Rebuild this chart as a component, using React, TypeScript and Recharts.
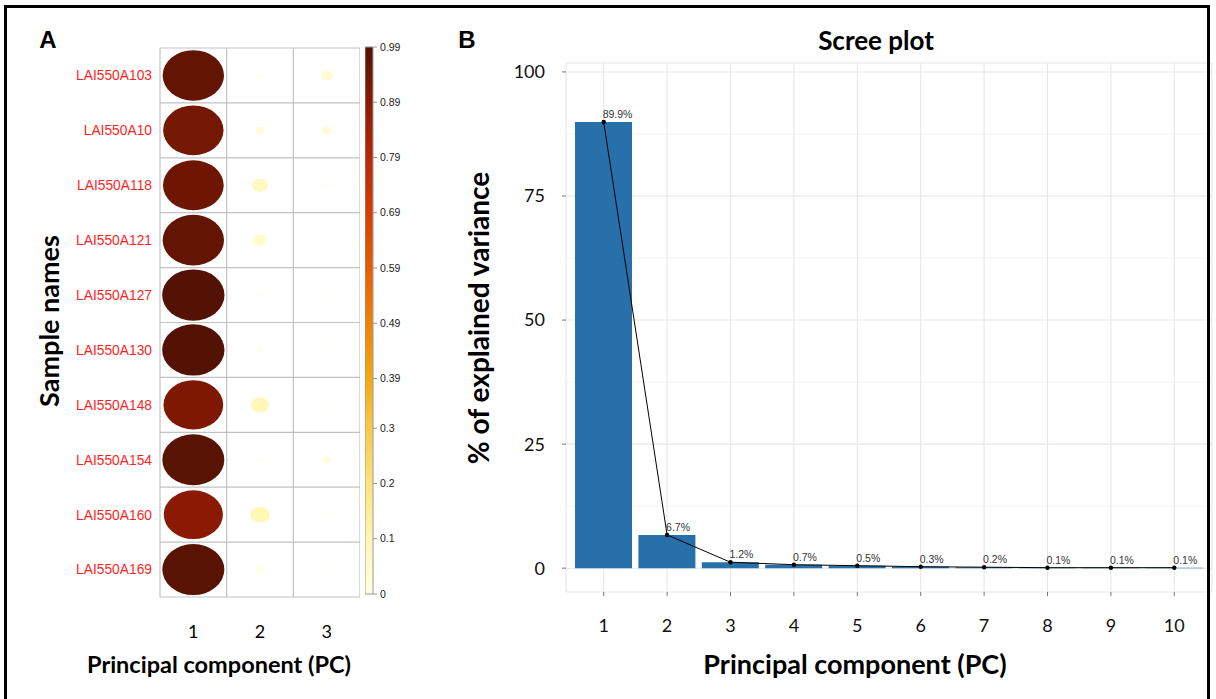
import React from "react"
import {
  ComposedChart,
  ScatterChart,
  BarChart,
  Scatter,
  Bar,
  Line,
  XAxis,
  YAxis,
  CartesianGrid,
  ReferenceLine,
  LabelList,
} from "recharts"

// Panel A: squared cosines of samples on the first three PCs
const samples = [
  "LAI550A103",
  "LAI550A10",
  "LAI550A118",
  "LAI550A121",
  "LAI550A127",
  "LAI550A130",
  "LAI550A148",
  "LAI550A154",
  "LAI550A160",
  "LAI550A169",
]
const pcColumns = [1, 2, 3]
const pc1Cos2 = [0.96, 0.93, 0.94, 0.96, 0.99, 0.99, 0.91, 0.98, 0.89, 0.98]
const pc2Cos2 = [0.005, 0.02, 0.066, 0.05, 0.004, 0.006, 0.084, 0.003, 0.094, 0.013]
const pc3Cos2 = [0.037, 0.026, 0.003, 0.001, 0.002, 0.002, 0.004, 0.017, 0.003, 0.002]
const legendTicks = [0, 0.1, 0.2, 0.3, 0.39, 0.49, 0.59, 0.69, 0.79, 0.89, 0.99]
const legendMax = 0.99

// Panel B: scree plot
const components = ["1", "2", "3", "4", "5", "6", "7", "8", "9", "10"]
const explained = [89.9, 6.7, 1.2, 0.7, 0.5, 0.3, 0.2, 0.1, 0.1, 0.1]
const varianceTicks = [0, 25, 50, 75, 100]
const minorTicks = [12.5, 37.5, 62.5, 87.5]

const paletteStops: [number, string][] = [
  [0, "#FFFFE3"],
  [0.1, "#FFF6B2"],
  [0.2, "#FDE47C"],
  [0.3, "#F9C94C"],
  [0.39, "#F4A80C"],
  [0.49, "#EE8206"],
  [0.59, "#E65D04"],
  [0.69, "#D63C04"],
  [0.79, "#B82704"],
  [0.89, "#8A1A03"],
  [0.99, "#531203"],
]

const hex = (c: string) => [1, 3, 5].map((i) => parseInt(c.slice(i, i + 2), 16))

function paletteColor(v: number) {
  for (let i = 1; i < paletteStops.length; i++) {
    const [v1, c1] = paletteStops[i]
    const [v0, c0] = paletteStops[i - 1]
    if (v <= v1 || i === paletteStops.length - 1) {
      const t = Math.max(0, Math.min(1, (v - v0) / (v1 - v0)))
      const a = hex(c0)
      const b = hex(c1)
      const m = a.map((x, k) => Math.round(x + (b[k] - x) * t))
      return `rgb(${m[0]},${m[1]},${m[2]})`
    }
  }
  return paletteStops[0][1]
}

const cos2Cols = [pc1Cos2, pc2Cos2, pc3Cos2]
const cellData = samples.flatMap((s, r) =>
  pcColumns.map((pc, c) => ({ pc, row: r + 1, value: cos2Cols[c][r] }))
)
const screeData = components.map((pc, i) => ({ pc, variance: explained[i] }))
const legendData = [{ key: "cos2", top: legendMax }]

const CELL_W = 200 / 3
const CELL_H = 549 / 10
const cellEdgesX = [0.5, 1.5, 2.5, 3.5]
const cellEdgesY = [0.5, 1.5, 2.5, 3.5, 4.5, 5.5, 6.5, 7.5, 8.5, 9.5, 10.5]

const CALIBRI = "Lato, 'Open Sans', sans-serif"
const ARIAL = "'Liberation Sans', Arial, sans-serif"

const CellShape = (props: any) => {
  const { cx, cy, payload } = props
  const s = Math.sqrt(payload.value)
  return (
    <ellipse
      cx={cx}
      cy={cy}
      rx={s * CELL_W * 0.47}
      ry={s * CELL_H * 0.47}
      fill={paletteColor(payload.value)}
    />
  )
}

function Txt({ x, y, size, rotate = 0, family = CALIBRI, children }: any) {
  return (
    <div
      style={{
        position: "absolute",
        left: x,
        top: y,
        transform: `translate(-50%, -50%) rotate(${rotate}deg)`,
        fontSize: size,
        fontWeight: 700,
        fontFamily: family,
        whiteSpace: "nowrap",
        lineHeight: 1,
        color: "#000",
      }}
    >
      {children}
    </div>
  )
}

export default function App() {
  return (
    <div
      style={{
        position: "absolute",
        left: 0,
        top: 0,
        width: 1216,
        height: 699,
        background: "#fff",
        overflow: "hidden",
      }}
    >
      {/* panel A grid */}
      <div style={{ position: "absolute", left: 0, top: 0 }}>
        <ScatterChart width={360} height={699} margin={{ top: 48, right: 0, bottom: 62, left: 40 }}>
          <XAxis
            type="number"
            dataKey="pc"
            domain={[0.5, 3.5]}
            ticks={pcColumns}
            axisLine={false}
            tickLine={false}
            tickSize={0}
            tickMargin={28}
            height={40}
            tick={{ fontSize: 18, fill: "#000", fontFamily: CALIBRI }}
          />
          <YAxis
            type="number"
            dataKey="row"
            domain={[0.5, 10.5]}
            ticks={samples.map((_, i) => i + 1)}
            reversed
            width={120}
            axisLine={false}
            tickLine={false}
            tickSize={0}
            tickMargin={8}
            tickFormatter={(v) => samples[v - 1]}
            tick={{ fontSize: 13.8, fill: "#ff1f1f", fontFamily: ARIAL }}
          />
          {cellEdgesX.map((x) => (
            <ReferenceLine key={"x" + x} x={x} stroke="#c2c2c2" strokeWidth={1.2} />
          ))}
          {cellEdgesY.map((y) => (
            <ReferenceLine key={"y" + y} y={y} stroke="#c2c2c2" strokeWidth={1.2} />
          ))}
          <Scatter data={cellData} shape={CellShape} isAnimationActive={false} />
        </ScatterChart>
      </div>

      {/* panel A colour bar */}
      <div style={{ position: "absolute", left: 365, top: 0 }}>
        <BarChart
          width={62}
          height={600}
          data={legendData}
          barCategoryGap={0}
          margin={{ top: 47, right: 0, bottom: 6, left: 0 }}
        >
          <defs>
            <linearGradient id="cbar" x1="0" y1="1" x2="0" y2="0">
              {paletteStops.map(([v, c]) => (
                <stop key={v} offset={v / legendMax} stopColor={c} />
              ))}
            </linearGradient>
          </defs>
          <XAxis dataKey="key" hide />
          <YAxis
            type="number"
            orientation="right"
            domain={[0, legendMax]}
            ticks={legendTicks}
            width={54}
            axisLine={false}
            tickSize={4}
            tickMargin={3}
            tickLine={{ stroke: "#999" }}
            tick={{ fontSize: 10.5, fill: "#222", fontFamily: ARIAL }}
          />
          <Bar dataKey="top" fill="url(#cbar)" stroke="#9a9a9a" strokeWidth={1} isAnimationActive={false} />
        </BarChart>
      </div>

      {/* panel B scree plot */}
      <div style={{ position: "absolute", left: 460, top: 55 }}>
        <ComposedChart width={756} height={644} data={screeData} margin={{ top: 8, right: 4, bottom: 77, left: 46 }}>
          <CartesianGrid stroke="#f2f2f2" strokeWidth={1} vertical={false} horizontalValues={minorTicks} />
          <CartesianGrid stroke="#e6e6e6" strokeWidth={1.1} />
          <XAxis
            dataKey="pc"
            padding={{ left: 6, right: 6 }}
            axisLine={false}
            tickSize={4}
            tickMargin={23}
            height={30}
            tickLine={{ stroke: "#777" }}
            tick={{ fontSize: 18, fill: "#111", fontFamily: CALIBRI }}
          />
          <YAxis
            type="number"
            domain={[-4.8, 101.8]}
            ticks={varianceTicks}
            width={60}
            axisLine={false}
            tickSize={4}
            tickMargin={17}
            tickLine={{ stroke: "#777" }}
            tick={{ fontSize: 18, fill: "#111", fontFamily: CALIBRI }}
          />
          <Bar dataKey="variance" fill="#2870aa" barSize={57} isAnimationActive={false} />
          <Line
            dataKey="variance"
            type="linear"
            stroke="#000"
            strokeWidth={1}
            dot={{ r: 2.2, fill: "#000", stroke: "#000", strokeWidth: 0 }}
            activeDot={false}
            isAnimationActive={false}
          >
            <LabelList
              dataKey="variance"
              content={(p: any) => (
                <text x={p.x - 1} y={p.y - 4} fontSize={10.5} fill="#333" fontFamily={ARIAL}>
                  {`${p.value}%`}
                </text>
              )}
            />
          </Line>
        </ComposedChart>
      </div>

      <Txt x={48} y={40} size={24} family={ARIAL}>A</Txt>
      <Txt x={467} y={40} size={24} family={ARIAL}>B</Txt>
      <Txt x={876} y={40} size={26}>Scree plot</Txt>
      <Txt x={48} y={321} size={27} rotate={-90}>Sample names</Txt>
      <Txt x={219} y={665} size={23.5}>Principal component (PC)</Txt>
      <Txt x={478} y={318} size={28} rotate={-90}>% of explained variance</Txt>
      <Txt x={855} y={663} size={27}>Principal component (PC)</Txt>

      {/* outer frame */}
      <div
        style={{
          position: "absolute",
          left: 4,
          top: 5,
          width: 1206,
          height: 720,
          border: "3px solid #000",
          boxSizing: "border-box",
          pointerEvents: "none",
        }}
      />
    </div>
  )
}
